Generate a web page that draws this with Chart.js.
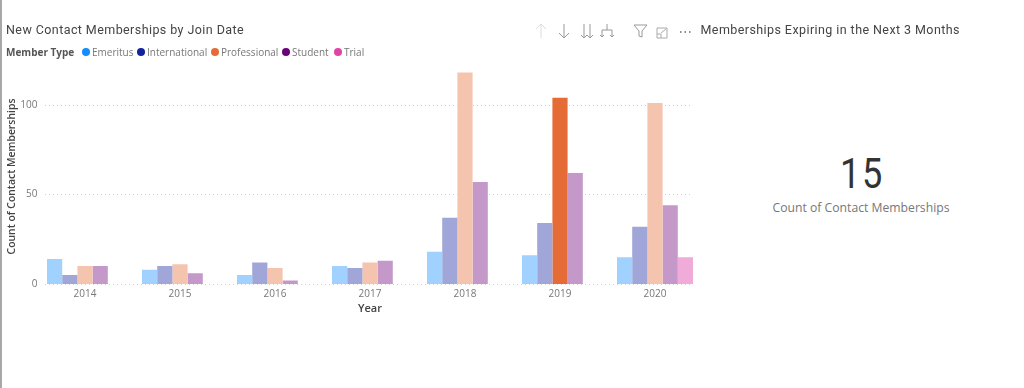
<!DOCTYPE html>
<html>
<head>
<meta charset="utf-8">
<title>New Contact Memberships by Join Date</title>
<script src="https://cdn.jsdelivr.net/npm/chart.js@4/dist/chart.umd.min.js"></script>
<style>
  html, body { margin: 0; padding: 0; background: #fff; }
  body { width: 1024px; height: 388px; position: relative; overflow: hidden; font-family: Roboto, sans-serif; }
  #edge { position: absolute; left: 0; top: 0; width: 2px; height: 388px; background: #a8a8a8; }
  #chart-box { position: absolute; left: 0; top: 0; width: 710px; height: 315px; }
  .title { position: absolute; top: 22px; font-size: 12.5px; line-height: 16px; color: #444; letter-spacing: 0.42px; white-space: nowrap; }
  #legend { position: absolute; left: 6px; top: 45px; height: 14px; font: 10px/14px "Open Sans", sans-serif; color: #777; white-space: nowrap; }
  #legend b { position: absolute; left: 0; color: #555; font-weight: 700; }
  #legend span { position: absolute; top: 0; }
  #legend i { position: absolute; top: 3px; width: 8px; height: 8px; border-radius: 50%; }
  #toolbar { position: absolute; left: 530px; top: 20px; }
  #big-number { position: absolute; left: 762px; width: 200px; top: 150px; text-align: center; font-size: 42px; line-height: 48px; color: #333; letter-spacing: 2px; transform: scaleX(0.86); }
  #big-label { position: absolute; left: 761px; width: 200px; top: 200px; text-align: center; font: 12.2px/16px "Open Sans", sans-serif; color: #777; }
</style>
</head>
<body>
<div id="edge"></div>
<div id="chart-box"><canvas id="chart"></canvas></div>
<div class="title" style="left:6px">New Contact Memberships by Join Date</div>
<div id="legend"></div>
<svg id="toolbar" width="170" height="24" fill="none" stroke="#999" stroke-width="1">
  <path d="M11 4v14M6 9l5-5 5 5" stroke="#ddd"/>
  <path d="M34 4v14M29 13l5 5 5-5"/>
  <path d="M54 4v14M51 15l3 3 3-3M60 4v14M57 15l3 3 3-3"/>
  <path d="M77 4v6M72 17v-7h10v7M70 15l2 2 2-2M80 15l2 2 2-2"/>
  <path d="M104 5h13l-5 6v6l-3-1v-5z"/>
  <path d="M127 8h10v10h-10zM131 13l5-4M127 14h4v4" stroke="#aaa"/>
  <path d="M150 12h1.5M154.500 12h1.500M159 12h1.500" stroke="#666" stroke-width="1.500"/>
</svg>
<div class="title" style="left:700.500px">Memberships Expiring in the Next 3 Months</div>
<div id="big-number">15</div>
<div id="big-label">Count of Contact Memberships</div>

<script>
const years = ['2014', '2015', '2016', '2017', '2018', '2019', '2020'];
const memberTypes = ['Emeritus', 'International', 'Professional', 'Student', 'Trial'];

const emeritus = [14, 8, 5, 10, 18, 16, 15];
const international = [5, 10, 12, 9, 37, 34, 32];
const professional = [10, 11, 9, 12, 118, 104, 101];
const student = [10, 6, 2, 13, 57, 62, 44];
const trial = [null, null, null, null, null, null, 15];

const yTicks = [0, 50, 100];

const typeColors = ['#118DFF', '#12239E', '#E66C37', '#6B007B', '#E044A7'];
const fadedColors = ['#A0D1FF', '#A0A7D8', '#F5C4AF', '#C499CA', '#F0ABD9'];

// the selected bar keeps its full colour, all the others are faded
const selectedYear = '2019';
const selectedType = 'Professional';

// legend above the chart
const legendEl = document.getElementById('legend');
legendEl.innerHTML = '<b>Member Type</b>';
const legendDotX = [76, 131, 205, 276, 328];
memberTypes.forEach((name, i) => {
  const dot = document.createElement('i');
  dot.style.left = legendDotX[i] + 'px';
  dot.style.background = typeColors[i];
  const label = document.createElement('span');
  label.style.left = (legendDotX[i] + 10) + 'px';
  label.textContent = name;
  legendEl.append(dot, label);
});

// dotted lines stop short of the plot area edges in the original
const shortGrid = {
  id: 'shortGrid',
  beforeDatasetsDraw(chart) {
    const { ctx, scales } = chart;
    ctx.save();
    ctx.strokeStyle = '#cfcfcf';
    ctx.lineWidth = 1;
    ctx.setLineDash([1, 3]);
    yTicks.forEach(v => {
      const y = Math.round(scales.y.getPixelForValue(v)) + 0.5;
      ctx.beginPath();
      ctx.moveTo(45, y);
      ctx.lineTo(692, y);
      ctx.stroke();
    });
    ctx.restore();
  }
};

const seriesValues = [emeritus, international, professional, student, trial];

new Chart(document.getElementById('chart'), {
  type: 'bar',
  plugins: [shortGrid],
  data: {
    labels: years,
    datasets: memberTypes.map((name, i) => ({
      label: name,
      data: seriesValues[i],
      backgroundColor: years.map(y =>
        y === selectedYear && name === selectedType ? typeColors[i] : fadedColors[i]),
      borderWidth: 0,
      categoryPercentage: 0.8,
      barPercentage: 1
    }))
  },
  options: {
    responsive: true,
    maintainAspectRatio: false,
    animation: false,
    layout: { padding: { top: 69, right: 7.5, left: 0, bottom: 0 } },
    plugins: { legend: { display: false }, tooltip: { enabled: false } },
    scales: {
      x: {
        grid: { display: false },
        border: { display: false },
        ticks: { color: '#777', font: { family: 'Open Sans', size: 10 }, padding: -4, maxRotation: 0 },
        title: {
          display: true, text: 'Year', color: '#444',
          font: { family: 'Open Sans', size: 11, weight: '600' }, padding: { top: 1, bottom: 0 }
        },
        afterFit: s => { s.height = 31; }
      },
      y: {
        min: 0,
        max: 120,
        grid: { display: false },
        border: { display: false },
        afterBuildTicks: s => { s.ticks = yTicks.map(v => ({ value: v })); },
        ticks: { color: '#777', font: { family: 'Open Sans', size: 10 }, padding: -8 },
        title: {
          display: true, text: 'Count of Contact Memberships', color: '#444',
          font: { family: 'Open Sans', size: 10.400, weight: '600' }, padding: { top: 6, bottom: 0 }
        },
        afterFit: s => { s.width = 37.5; }
      }
    }
  }
});
</script>
</body>
</html>
